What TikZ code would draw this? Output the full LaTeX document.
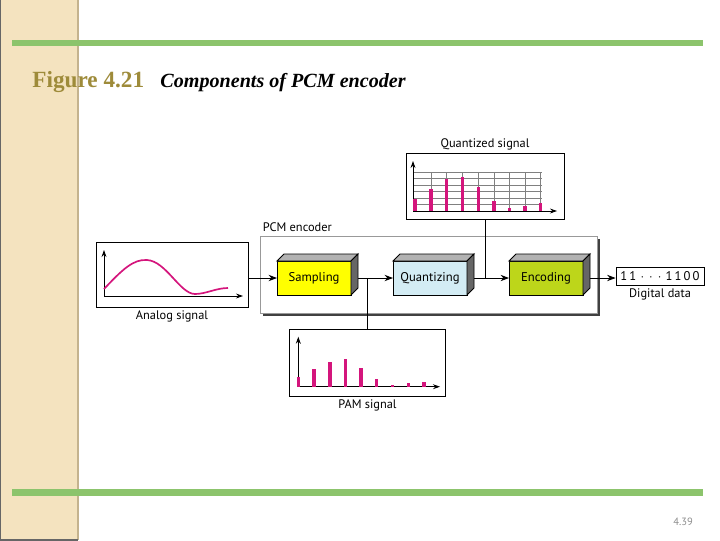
\documentclass[tikz,border=0pt]{standalone}
\usepackage{fontspec}
\setmainfont{Liberation Serif}
\setsansfont{PT Sans}
\usetikzlibrary{arrows.meta,calc,positioning}
\definecolor{stripbg}{HTML}{F4E3BF}
\definecolor{stripedge}{HTML}{C4B38E}
\definecolor{rulegreen}{HTML}{8CC46C}
\definecolor{figgold}{HTML}{9E8B3A}
\definecolor{sampyellow}{HTML}{FFFF00}
\definecolor{quantblue}{HTML}{D3ECF4}
\definecolor{encgreen}{HTML}{BDD61A}
\definecolor{sigpink}{HTML}{D4157C}

\begin{document}
\begin{tikzpicture}[x=0.025cm,y=-0.025cm,line width=0.6pt,
  stage/.style={draw,minimum width=1.85cm,minimum height=0.85cm,inner sep=0pt,outer sep=0pt,font=\sffamily\fontsize{9}{10}\selectfont},
  plotbox/.style={draw,minimum height=1.65cm,inner sep=0pt,outer sep=0pt},
  capt/.style={font=\sffamily\fontsize{8.8}{10}\selectfont,inner sep=1pt},
  bar/.style={sigpink,line width=2.3pt},
  axis/.style={-{Stealth[length=5pt,width=3.5pt]}},
  flow/.style={-{Stealth[length=6pt,width=4.5pt]}}]
\useasboundingbox (0,0) rectangle (720,540);
% slide frame
\fill[stripbg] (0,0) rectangle (78,540);
\draw[stripedge,line width=1.5pt] (78,0) -- (78,540);
\draw[black!60,line width=1pt] (0,0) -- (0,540) -- (78,540);
\fill[rulegreen] (12,39.5) rectangle (703,46);
\fill[rulegreen] (12,489) rectangle (703,495.5);
\node[anchor=base west,inner sep=0pt,text=figgold,font=\fontsize{16.5}{18}\selectfont\bfseries] (figno) at (32,87) {Figure 4.21};
\node[anchor=base west,inner sep=0pt,font=\fontsize{14.3}{16}\selectfont\bfseries\itshape] (figtitle) at (160,87) {Components of PCM encoder};
\node[text=black!45,font=\sffamily\fontsize{7.5}{8}\selectfont] (pageno) at (683,522) {4.39};

% PCM encoder frame with shadow
\fill[black!75] (263,239) rectangle (600,316);
\fill[white,draw=black!40] (260,236) rectangle (597,313);
\node[capt,anchor=base west] (enclabel) at (261,231) {PCM encoder};

% stages
\node[stage,fill=sampyellow] (samp) at (314,278) {Sampling};
\node[stage,fill=quantblue] (quant) at (430,278) {Quantizing};
\node[stage,fill=encgreen] (enc) at (546,278) {Encoding};

% analog signal
\node[plotbox,minimum width=3.8cm,minimum height=1.625cm] (analog) at (172,274.5) {};
\node[capt,below=1pt of analog] (analoglabel) {Analog signal};
\draw[axis] (104,296) -- (104,250);
\draw[axis] (104,296) -- (243,296);
\draw[sigpink,line width=1.2pt] (104,289) .. controls (122,270) and (133,259) .. (147,260)
  .. controls (166,261) and (180,294) .. (195,294) .. controls (206,294) and (216,288) .. (228,288);

% quantized signal
\node[plotbox,minimum width=3.95cm] (qbox) at (485,186) {};
\node[capt,above=1pt of qbox] (qlabel) {Quantized signal};
\foreach \gy in {172,178.5,...,205} \draw[black!50,thin] (413,\gy) -- (541.5,\gy);
\foreach \gx in {431,446.7,462.3,478.3,494,509.3,525,540.7} \draw[black!50,thin] (\gx,172) -- (\gx,211);
\draw[axis] (413,211) -- (413,161);
\draw[axis] (413,211) -- (557,211);
\foreach \bx/\by in {415/199,431/189,446.7/179,462.3/176.7,478.3/186.7,494/201,509.3/208.3,525/206,540.7/203.3}
  \draw[bar] (\bx,211) -- (\bx,\by);

% PAM signal
\node[plotbox,minimum width=3.9cm,minimum height=1.67cm] (pam) at (367.5,362.7) {};
\node[capt,below=1pt of pam] (pamlabel) {PAM signal};
\draw[axis] (298.3,386.7) -- (298.3,336.7);
\draw[axis] (298.3,386.7) -- (440,386.7);
\foreach \bx/\by in {298.3/376.7,314/369.3,330/361.7,345.7/359.3,361/367.7,376.7/379,392.7/385,408.3/382.7,424/381.7}
  \draw[bar] (\bx,386.7) -- (\bx,\by);

% digital data
\node[draw,minimum width=2.2cm,minimum height=0.45cm,inner sep=0pt,font=\sffamily\fontsize{9}{10}\selectfont] (digital) at (660,276) {1\,1\,\,$\cdot\,\cdot\,\cdot$\,\,1\,1\,0\,0};
\node[capt,below=1pt of digital] (digitallabel) {Digital data};

% connectors
\coordinate (pamtap) at (pam.north |- samp.east);
\coordinate (qtap) at (qbox.south |- quant.east);
\draw[flow] (analog.east |- samp.west) -- (samp.west);
\draw[flow] (samp.east) -- (quant.west);
\draw (pamtap) -- (pam.north);
\draw[flow] (quant.east) -- (enc.west);
\draw (qbox.south) -- (qtap);
\draw[flow] (enc.east) -- (digital.west |- enc.east);

% 3d faces of the stages
\foreach \n in {samp,quant,enc}{
  \filldraw[fill=black!30] (\n.north west) -- ++(7,-7) -- ([shift={(7,-7)}]\n.north east) -- (\n.north east) -- cycle;
  \filldraw[fill=black!60] (\n.north east) -- ++(7,-7) -- ([shift={(7,-7)}]\n.south east) -- (\n.south east) -- cycle;
}
\end{tikzpicture}
\end{document}
